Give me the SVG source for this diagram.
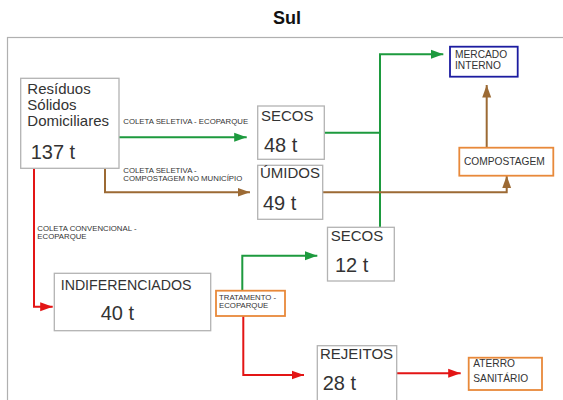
<svg xmlns="http://www.w3.org/2000/svg" width="563" height="400" viewBox="0 0 563 400">
<defs>
<style>
text{font-family:"Liberation Sans",Arial,sans-serif;fill:#333}
.box{fill:#fff;stroke:#b3b3b3;stroke-width:1.3}
.org{fill:#fff;stroke:#e8893a;stroke-width:1.8}
.blu{fill:#fff;stroke:#1c1ca0;stroke-width:1.8}
.big{font-size:15px}
.num{font-size:20px}
.sm{font-size:7.8px}
.mid{font-size:10.2px}
.g{fill:none;stroke:#1d9a3e;stroke-width:2}
.b{fill:none;stroke:#9c6a34;stroke-width:2}
.r{fill:none;stroke:#e31515;stroke-width:2}
</style>
<marker id="ag" markerUnits="userSpaceOnUse" markerWidth="13" markerHeight="10" refX="12.5" refY="5" orient="auto"><path d="M0,0.5 L12.5,5 L0,9.5 z" fill="#1d9a3e"/></marker>
<marker id="ab" markerUnits="userSpaceOnUse" markerWidth="13" markerHeight="10" refX="12.5" refY="5" orient="auto"><path d="M0,0.5 L12.5,5 L0,9.5 z" fill="#9c6a34"/></marker>
<marker id="ar" markerUnits="userSpaceOnUse" markerWidth="13" markerHeight="10" refX="12.5" refY="5" orient="auto"><path d="M0,0.5 L12.5,5 L0,9.5 z" fill="#e31515"/></marker>
</defs>
<rect width="563" height="400" fill="#fff"/>
<text x="287" y="24.3" text-anchor="middle" style="font-size:18px;font-weight:bold;fill:#111">Sul</text>
<rect x="7.5" y="37.5" width="600" height="420" fill="none" stroke="#b0b0b0" stroke-width="1.2"/>

<g id="connectors">
<path class="g" d="M119,137.3 H246.7" marker-end="url(#ag)"/>
<path class="b" d="M105,168.3 V192.3 H250" marker-end="url(#ab)"/>
<path class="r" d="M34,168.3 V306.7 H52.7" marker-end="url(#ar)"/>
<path class="g" d="M324.3,132.7 H380"/>
<path class="g" d="M380,227.3 V54.3 H443.3" marker-end="url(#ag)"/>
<path class="b" d="M322.7,192.3 H506.7 V175.7" marker-end="url(#ab)"/>
<path class="b" d="M486.7,147.7 V85" marker-end="url(#ab)"/>
<path class="g" d="M242.3,290.7 V255.7 H317.3" marker-end="url(#ag)"/>
<path class="r" d="M243.3,316 V375 H304" marker-end="url(#ar)"/>
<path class="r" d="M396.7,373.3 H460.7" marker-end="url(#ar)"/>
<text class="sm" x="123.3" y="124">COLETA SELETIVA - ECOPARQUE</text>
<text class="sm" x="123.3" y="173.3">COLETA SELETIVA -</text>
<text class="sm" x="123.3" y="181">COMPOSTAGEM NO MUNICÍPIO</text>
<text class="sm" x="37.3" y="231">COLETA CONVENCIONAL -</text>
<text class="sm" x="37.3" y="239">ECOPARQUE</text>
</g>

<g id="residuos">
<rect class="box" x="20.7" y="78.3" width="98.3" height="90"/>
<text class="big" x="27.3" y="94.3">Resíduos</text>
<text class="big" x="27.3" y="110">Sólidos</text>
<text class="big" x="27.3" y="125.7">Domiciliares</text>
<text class="num" x="30.7" y="159.3">137 t</text>
</g>
<g id="secos48">
<rect class="box" x="257.7" y="106" width="66.6" height="53.3"/>
<text class="big" x="261" y="120.7">SECOS</text>
<text class="num" x="264" y="151.7">48 t</text>
</g>
<g id="umidos">
<rect class="box" x="257.7" y="165.3" width="65" height="54"/>
<text class="big" x="260" y="178.3">ÚMIDOS</text>
<text class="num" x="263" y="210">49 t</text>
</g>
<g id="secos12">
<rect class="box" x="327.5" y="227.3" width="66.8" height="53.7"/>
<text class="big" x="330.7" y="241">SECOS</text>
<text class="num" x="335" y="271.7">12 t</text>
</g>
<g id="indiferenciados">
<rect class="box" x="54.3" y="273.3" width="156.4" height="57.4"/>
<text x="60.7" y="290" style="font-size:14.2px">INDIFERENCIADOS</text>
<text class="num" x="100.7" y="320">40 t</text>
</g>
<g id="tratamento">
<rect class="org" x="216" y="290.7" width="69" height="25.3"/>
<text class="sm" x="219" y="300">TRATAMENTO -</text>
<text class="sm" x="219" y="308.3">ECOPARQUE</text>
</g>
<g id="rejeitos">
<rect class="box" x="317.3" y="345.7" width="79.4" height="70"/>
<text class="big" x="320" y="359.3">REJEITOS</text>
<text class="num" x="322.7" y="390">28 t</text>
</g>
<g id="aterro">
<rect class="org" x="468.7" y="357.7" width="73.3" height="32.3"/>
<text class="mid" x="473.3" y="367.3">ATERRO</text>
<text class="mid" x="473.3" y="382.3">SANITÁRIO</text>
</g>
<g id="mercado">
<rect class="blu" x="450" y="46.7" width="67.7" height="30"/>
<text class="mid" x="455" y="58.3">MERCADO</text>
<text class="mid" x="455" y="69">INTERNO</text>
</g>
<g id="compostagem">
<rect class="org" x="459.3" y="147.7" width="94" height="28"/>
<text class="mid" x="464" y="165">COMPOSTAGEM</text>
</g>
</svg>
